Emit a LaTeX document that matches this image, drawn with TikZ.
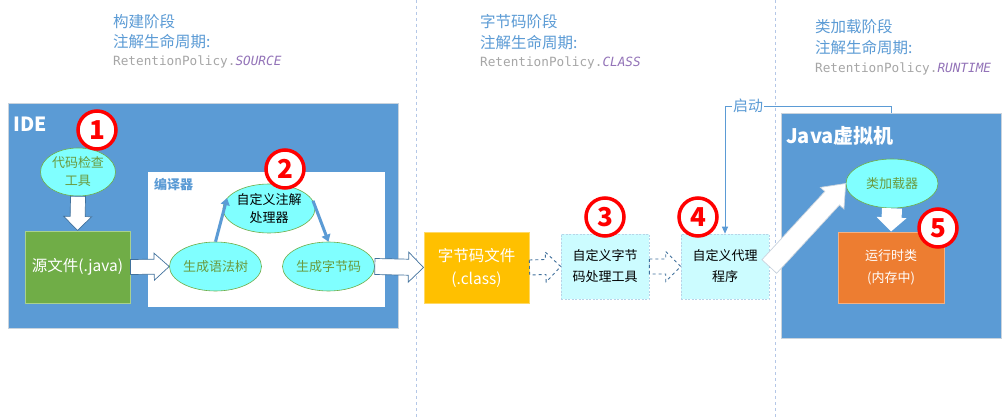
\documentclass[tikz,border=0pt]{standalone}
\usepackage{fontspec}
\setmainfont{Noto Sans CJK SC}
\setmonofont{DejaVu Sans Mono}
\usetikzlibrary{calc,arrows.meta,shapes.geometric}
\definecolor{ideblue}{HTML}{5B9BD5}
\definecolor{boxgray}{HTML}{C9D3DD}
\definecolor{ellfill}{HTML}{80FFFF}
\definecolor{ellline}{HTML}{70AD47}
\definecolor{elltext}{HTML}{6A9A3E}
\definecolor{srcgreen}{HTML}{70AD47}
\definecolor{srcline}{HTML}{A9D18E}
\definecolor{bcorange}{HTML}{FFC000}
\definecolor{bcline}{HTML}{FFD966}
\definecolor{rtorange}{HTML}{ED7D31}
\definecolor{rtline}{HTML}{F4B183}
\definecolor{toolfill}{HTML}{CCFCFF}
\definecolor{toolline}{HTML}{B8D4E8}
\definecolor{dashblue}{HTML}{41719C}
\definecolor{sepcol}{HTML}{B4C7E7}
\definecolor{monogray}{HTML}{A6A6A6}
\definecolor{purp}{HTML}{9373B8}
\newcommand\BlkArr[6]{%
  \coordinate (ba-h) at ($#3!#6!#2$);
  \draw[#1] ($#2!#4!90:#3$) -- ($(ba-h)!#4!90:#3$) -- ($(ba-h)!#5!90:#3$) -- #3
    -- ($(ba-h)!#5!-90:#3$) -- ($(ba-h)!#4!-90:#3$) -- ($#2!#4!-90:#3$) -- cycle;
}
\begin{document}
\begin{tikzpicture}[x=1pt,y=-1pt,
  sep/.style={draw=sepcol, dashed, line width=1pt},
  hdr/.style={anchor=west, inner sep=0pt, text=ideblue, font=\fontsize{15.5}{18}\selectfont},
  mono/.style={anchor=west, inner sep=0pt, text=monogray, font=\fontsize{12.7}{15}\selectfont\ttfamily},
  bigbox/.style={draw=boxgray, fill=ideblue, line width=1pt, anchor=north west, inner sep=0pt},
  title/.style={anchor=west, inner sep=0pt, text=white, font=\fontsize{19.5}{22}\selectfont\bfseries},
  ell/.style={ellipse, draw=ellline, fill=ellfill, line width=0.6pt, minimum width=92pt, minimum height=49pt,
     inner sep=0pt, align=center, text=elltext, font=\fontsize{13}{18}\selectfont},
  num/.style={circle, draw=red, line width=3.5pt, fill=white, minimum size=38pt, inner sep=0pt,
     text=red, font=\fontsize{26}{26}\selectfont\bfseries},
  wbox/.style={line width=1pt, inner sep=0pt, align=center, text=white},
  tool/.style={draw=toolline, dash pattern=on 2pt off 1.5pt, fill=toolfill, line width=0.6pt, minimum width=88pt, minimum height=65pt,
     inner sep=0pt, align=center, font=\fontsize{13}{21}\selectfont},
  warr/.style={draw=dashblue, fill=white, line width=0.7pt},
  darr/.style={draw=dashblue, dashed, line width=0.9pt},
  bluearr/.style={draw=ideblue, line width=3pt, -{Triangle[length=7pt,width=9pt]}},
  qline/.style={draw=ideblue, line width=1pt, -{Triangle[length=7pt,width=6pt]}}
]
\useasboundingbox (0,0) rectangle (1007,417);
\fill[white] (0,0) rectangle (1007,417);
% separators
\draw[sep] (416,0) -- (416,417);
\draw[sep] (775,0) -- (775,417);
% headers
\node[hdr] (h1a) at (113,22) {构建阶段};
\node[hdr] (h1b) at (113,42) {注解生命周期:};
\node[mono] (h1c) at (113,62) {RetentionPolicy.{\color{purp}\itshape SOURCE}};
\node[hdr] (h2a) at (480,22) {字节码阶段};
\node[hdr] (h2b) at (480,43) {注解生命周期:};
\node[mono] (h2c) at (480,63) {RetentionPolicy.{\color{purp}\itshape CLASS}};
\node[hdr] (h3a) at (815,27) {类加载阶段};
\node[hdr] (h3b) at (815,48) {注解生命周期:};
\node[mono] (h3c) at (815,69) {RetentionPolicy.{\color{purp}\itshape RUNTIME}};
% IDE
\node[bigbox, minimum width=390pt, minimum height=225pt] (ide) at (8,103) {};
\node[title] (idel) at (13,124) {IDE};
\node[ell, minimum width=75pt, minimum height=48pt] (chk) at (78,172) {代码检查\\工具};
\node[wbox, draw=srcline, fill=srcgreen, minimum width=105pt, minimum height=72pt,
  font=\fontsize{15.5}{18}\selectfont] (src) at (77.5,267) {源文件(.java)};
\node[fill=white, minimum width=237pt, minimum height=135pt, anchor=north west, inner sep=0pt] (cmp) at (148,172) {};
\node[anchor=west, inner sep=0pt, text=ideblue, font=\fontsize{13}{15}\selectfont\bfseries] (cmpl) at (154,185) {编译器};
\node[ell] (ast) at (215.5,266.5) {生成语法树};
\node[ell, text=black] (proc) at (269,208.5) {自定义注解\\处理器};
\node[ell] (gen) at (328.5,266.5) {生成字节码};
% class file column
\node[wbox, draw=bcline, fill=bcorange, minimum width=105pt, minimum height=71pt,
  font=\fontsize{15.5}{23}\selectfont] (bc) at (476.5,267.5) {字节码文件\\(.class)};
\node[tool] (tool) at (605,266.5) {自定义字节\\码处理工具};
\node[tool] (agent) at (725,266.5) {自定义代理\\程序};
% JVM
\node[bigbox, minimum width=220pt, minimum height=225pt] (jvm) at (781,113) {};
\node[title, font=\fontsize{20}{22}\selectfont\bfseries] (jvml) at (786,136) {Java虚拟机};
\node[ell] (loader) at (892,183.5) {类加载器};
\node[wbox, draw=rtline, fill=rtorange, minimum width=106pt, minimum height=71pt,
  font=\fontsize{13}{22}\selectfont] (rt) at (891,267.5) {运行时类\\(内存中)};
% block arrows
\BlkArr{warr}{(chk.south)}{(src.north)}{7.5pt}{14pt}{14pt}
\BlkArr{warr}{(src.east)}{(ast.west)}{7.5pt}{13.5pt}{15pt}
\BlkArr{warr}{(gen.east)}{(bc.west)}{8pt}{15pt}{15pt}
\BlkArr{darr}{(bc.east)}{(tool.west)}{7.5pt}{15pt}{15pt}
\BlkArr{darr}{(tool.east)}{(agent.west)}{7.5pt}{15pt}{15pt}
\BlkArr{warr, draw=boxgray}{(agent.east)}{(loader.west)}{10pt}{16pt}{20pt}
\BlkArr{warr, draw=none}{(loader.south)}{(rt.north)}{10pt}{15pt}{14pt}
% thin arrows
\draw[bluearr] (ast.north) -- (proc.166);
\draw[bluearr] (proc.10) -- (gen.north);
\draw[qline] (jvm.north) -- ++(0,-6.5) -| (agent.north);
\node[fill=white, inner sep=1pt, text=ideblue, font=\fontsize{15}{17}\selectfont] (qd) at (748,106) {启动};
% numbers
\node[num] (n1) at (97,130) {1};
\node[num] (n2) at (285,169) {2};
\node[num] (n3) at (605,217) {3};
\node[num] (n4) at (698,217) {4};
\node[num] (n5) at (938,228) {5};
\end{tikzpicture}
\end{document}
